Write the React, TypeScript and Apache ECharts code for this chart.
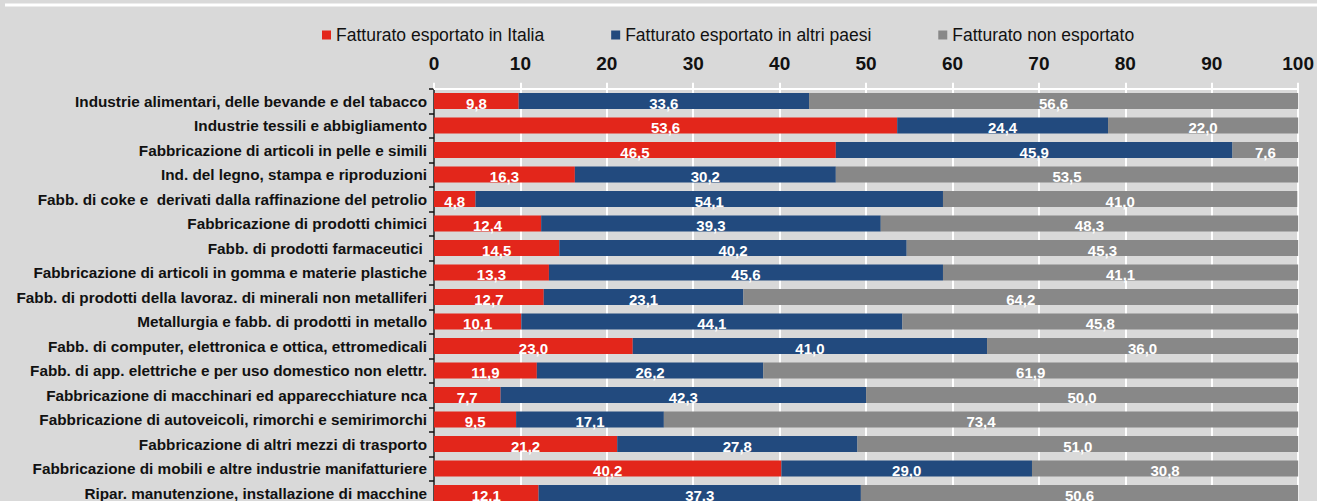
import React, { useEffect, useRef } from "react";
import * as echarts from "echarts";

const categories = [
  "Industrie alimentari, delle bevande e del tabacco",
  "Industrie tessili e abbigliamento",
  "Fabbricazione di articoli in pelle e simili",
  "Ind. del legno, stampa e riproduzioni",
  "Fabb. di coke e  derivati dalla raffinazione del petrolio",
  "Fabbricazione di prodotti chimici",
  "Fabb. di prodotti farmaceutici ",
  "Fabbricazione di articoli in gomma e materie plastiche",
  "Fabb. di prodotti della lavoraz. di minerali non metalliferi",
  "Metallurgia e fabb. di prodotti in metallo",
  "Fabb. di computer, elettronica e ottica, ettromedicali",
  "Fabb. di app. elettriche e per uso domestico non elettr.",
  "Fabbricazione di macchinari ed apparecchiature nca",
  "Fabbricazione di autoveicoli, rimorchi e semirimorchi",
  "Fabbricazione di altri mezzi di trasporto",
  "Fabbricazione di mobili e altre industrie manifatturiere",
  "Ripar. manutenzione, installazione di macchine",
];

const exportItalia = [9.8, 53.6, 46.5, 16.3, 4.8, 12.4, 14.5, 13.3, 12.7, 10.1, 23.0, 11.9, 7.7, 9.5, 21.2, 40.2, 12.1];
const exportAltri = [33.6, 24.4, 45.9, 30.2, 54.1, 39.3, 40.2, 45.6, 23.1, 44.1, 41.0, 26.2, 42.3, 17.1, 27.8, 29.0, 37.3];
const nonEsportato = [56.6, 22.0, 7.6, 53.5, 41.0, 48.3, 45.3, 41.1, 64.2, 45.8, 36.0, 61.9, 50.0, 73.4, 51.0, 30.8, 50.6];

const seriesNames = ["Fatturato esportato in Italia", "Fatturato esportato in altri paesi", "Fatturato non esportato"];
const seriesColors = ["#e3261b", "#224a7e", "#888888"];

const SANS = "'Liberation Sans', Arial, sans-serif";

export default function App() {
  const ref = useRef<HTMLDivElement>(null);
  useEffect(() => {
    document.body.style.margin = "0";
    const chart = echarts.init(ref.current!, null, { renderer: "svg" });
    const dataSets = [exportItalia, exportAltri, nonEsportato];
    chart.setOption({
      animation: false,
      backgroundColor: "#d9d9d9",
      legend: {
        top: 21,
        left: 317,
        itemGap: 67,
        itemWidth: 9,
        itemHeight: 9,
        icon: "rect",
        textStyle: { fontFamily: SANS, fontSize: 17.5, color: "#111" },
        data: seriesNames,
      },
      graphic: [
        { type: "line", shape: { x1: 5, y1: 5, x2: 1317, y2: 5 }, style: { stroke: "#ffffff", lineWidth: 3 } },
      ],
      grid: { left: 434, right: 18, top: 88.75, height: 416.5, containLabel: false },
      xAxis: {
        type: "value",
        position: "top",
        min: 0,
        max: 100,
        interval: 10,
        axisLine: { show: true, lineStyle: { color: "#ffffff", width: 2 } },
        axisTick: { show: true, length: 6, lineStyle: { color: "#ffffff", width: 2 } },
        axisLabel: { margin: 16, fontFamily: SANS, fontWeight: "bold", fontSize: 19, color: "#111" },
        splitLine: { show: true, lineStyle: { color: "#ffffff", width: 2 } },
      },
      yAxis: {
        type: "category",
        inverse: true,
        data: categories,
        axisLine: { show: true, lineStyle: { color: "#111", width: 1.5 } },
        axisTick: { show: true, length: 5, lineStyle: { color: "#111", width: 1.5 } },
        axisLabel: { margin: 7, fontFamily: SANS, fontWeight: "bold", fontSize: 15.3, color: "#111" },
        splitLine: { show: true, lineStyle: { color: "#ffffff", width: 2, shadowColor: "#eeeeee", shadowBlur: 3 } },
      },
      series: seriesNames.map((name, i) => ({
        name,
        type: "bar",
        stack: "tot",
        barWidth: 16,
        itemStyle: { color: seriesColors[i] },
        label: {
          show: true,
          position: "inside",
          color: "#ffffff",
          fontFamily: SANS,
          fontWeight: "bold",
          fontSize: 15,
          offset: [0, 2],
          formatter: (p: any) => Number(p.value).toFixed(1).replace(".", ","),
        },
        data: dataSets[i],
      })),
    });
    return () => chart.dispose();
  }, []);
  return (
    <div style={{ position: "fixed", left: 0, top: 0, width: 1317, height: 501, overflow: "hidden" }}>
      <div ref={ref} style={{ width: 1317, height: 510 }} />
    </div>
  );
}
